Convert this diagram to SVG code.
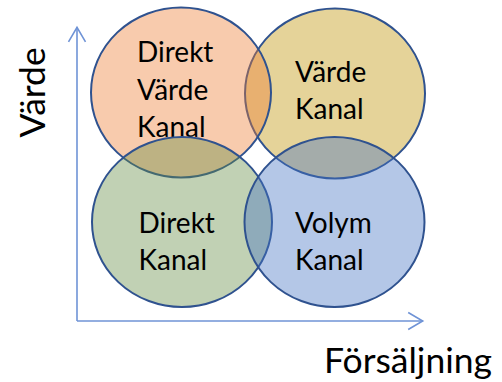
<svg xmlns="http://www.w3.org/2000/svg" width="502" height="382" viewBox="0 0 502 382">
  <defs>
    <marker id="open-arrow" markerUnits="userSpaceOnUse" markerWidth="20" markerHeight="20" refX="0" refY="0" orient="auto" overflow="visible">
      <path d="M -14.5 -8.5 L 0 0 L -14.5 8.5" fill="none" stroke="#6f93d6" stroke-width="1.6" stroke-linejoin="miter"/>
    </marker>
  </defs>
  <style>
    .axis { fill: none; stroke: #6f93d6; stroke-width: 1.6; }
    .bubble { stroke: #2f528f; stroke-width: 2; fill-opacity: 0.4; }
    .label { font-family: Lato, "Open Sans", "Liberation Sans", sans-serif; font-size: 28px; fill: #000; }
    .axis-label { font-family: Lato, "Open Sans", "Liberation Sans", sans-serif; font-size: 35.5px; fill: #000; }
  </style>
  <rect width="502" height="382" fill="#ffffff"/>

  <!-- axes -->
  <g id="connectors">
    <line class="axis" x1="77" y1="321" x2="77" y2="27.3" marker-end="url(#open-arrow)"/>
    <line class="axis" x1="77" y1="321" x2="422.7" y2="321" marker-end="url(#open-arrow)"/>
  </g>

  <!-- channel bubbles, drawn back to front -->
  <g id="varde-kanal">
    <ellipse class="bubble" cx="335" cy="93.5" rx="90" ry="85" fill="#bf9000"/>
    <text class="label" x="295" y="81.7">Värde</text>
    <text class="label" x="295" y="119.3">Kanal</text>
  </g>
  <g id="direkt-varde-kanal">
    <ellipse class="bubble" cx="181" cy="92.5" rx="90" ry="85" fill="#ed7d31"/>
    <text class="label" x="137" y="62">Direkt</text>
    <text class="label" x="137" y="99.7">Värde</text>
    <text class="label" x="137" y="137.3">Kanal</text>
  </g>
  <g id="direkt-kanal">
    <ellipse class="bubble" cx="182" cy="222" rx="90" ry="85" fill="#648c44"/>
    <text class="label" x="138.5" y="232.7">Direkt</text>
    <text class="label" x="138.5" y="270.3">Kanal</text>
  </g>
  <g id="volym-kanal">
    <ellipse class="bubble" cx="334.5" cy="222" rx="90" ry="85" fill="#4472c4"/>
    <text class="label" x="295" y="232.7">Volym</text>
    <text class="label" x="295" y="270.3">Kanal</text>
  </g>

  <!-- axis titles -->
  <g id="axis-y-title">
    <text class="axis-label" transform="translate(45 137.5) rotate(-90)">Värde</text>
  </g>
  <g id="axis-x-title">
    <text class="axis-label" x="324" y="372.7">Försäljning</text>
  </g>
</svg>
